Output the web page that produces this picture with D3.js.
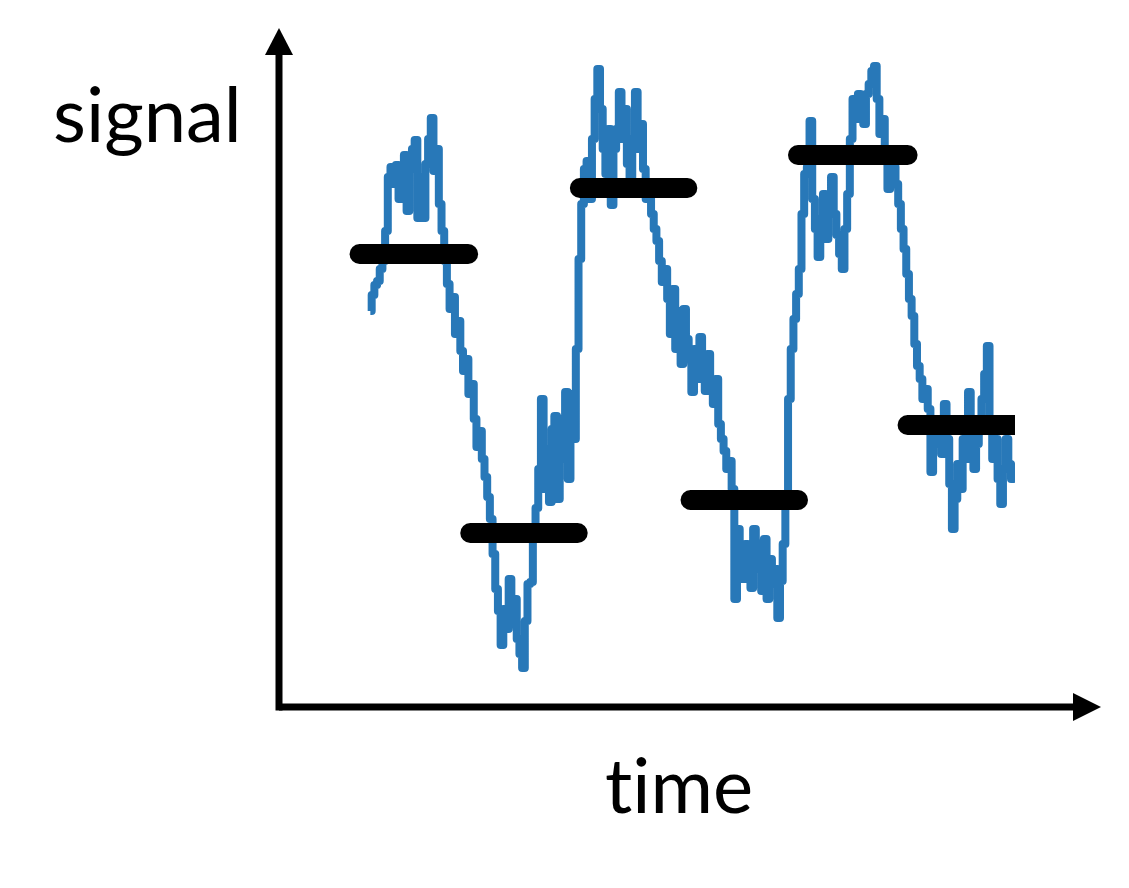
<!DOCTYPE html>
<html>
<head>
<meta charset="utf-8">
<script src="https://cdn.jsdelivr.net/npm/d3@7"></script>
<style>
  body { margin: 0; background: #fff; }
  text { font-family: Lato, "Open Sans", sans-serif; font-variant-ligatures: none; }
</style>
</head>
<body>
<div id="chart"></div>
<script>
// Noisy signal, one sample every 0.25 time units starting at t = 0
const timeStep = 0.25;
const signal = [
  39.6, 41.2, 42.2, 42.6, 43.8, 44.6, 47.6, 53.0, 54.0, 52.3, 54.2, 50.8, 53.0, 55.2, 49.6, 53.8,
  55.8, 56.7, 48.9, 53.0, 48.9, 54.3, 56.8, 58.9, 53.6, 55.8, 50.3, 47.6, 44.6, 42.3, 39.8, 41.0,
  37.3, 38.6, 35.6, 33.6, 34.8, 31.3, 32.3, 28.8, 26.0, 27.6, 24.8, 23.0, 21.0, 18.8, 15.3, 11.8,
  9.6, 6.2, 9.8, 7.8, 12.8, 8.3, 10.8, 6.8, 5.3, 3.9, 8.6, 12.3, 12.5, 16.8, 19.9, 23.8,
  30.8, 21.8, 25.8, 20.5, 27.8, 29.1, 20.8, 24.8, 28.8, 31.5, 22.8, 31.3, 26.8, 35.8, 44.8, 50.3,
  53.8, 54.6, 50.8, 56.8, 60.8, 63.8, 59.8, 55.8, 53.3, 57.8, 50.2, 55.8, 57.8, 61.5, 56.8, 59.8,
  54.3, 52.3, 56.8, 61.5, 55.8, 58.3, 53.8, 50.8, 51.8, 49.3, 47.8, 46.6, 44.6, 42.5, 43.8, 40.8,
  37.3, 41.8, 35.8, 39.6, 34.3, 39.8, 36.8, 34.8, 31.5, 35.8, 32.8, 37.0, 33.8, 31.6, 35.3, 31.8,
  30.3, 32.8, 28.3, 26.8, 25.6, 23.8, 24.6, 21.8, 10.8, 17.8, 14.8, 12.8, 16.3, 13.8, 11.9, 17.8,
  13.8, 16.3, 11.6, 16.8, 10.8, 14.8, 12.3, 13.8, 8.9, 12.6, 16.3, 21.3, 30.8, 35.8, 38.8, 41.3,
  43.8, 49.3, 53.3, 54.0, 58.6, 50.8, 47.8, 45.0, 48.8, 51.3, 46.8, 49.8, 53.0, 49.3, 47.2, 45.3,
  43.8, 47.8, 51.3, 56.8, 60.8, 58.8, 61.3, 60.0, 58.3, 61.3, 62.3, 63.6, 64.1, 60.8, 57.3, 58.8,
  54.8, 51.8, 55.8, 54.0, 52.3, 50.3, 47.8, 45.8, 43.3, 40.8, 39.1, 36.3, 34.1, 32.8, 30.8, 31.8,
  29.8, 23.5, 27.8, 26.3, 28.8, 25.3, 30.3, 26.8, 22.3, 17.8, 20.8, 24.3, 21.8, 26.8, 24.8, 31.5,
  27.8, 23.8, 26.3, 28.8, 30.8, 33.3, 36.1, 28.8, 24.8, 26.8, 22.8, 20.3, 23.8, 26.8, 24.3, 22.8,
  23.1
];

// Piecewise constant levels (black bars)
const levelStart = [-1, 9.3, 19.5, 29.8, 39.8, 50];
const levelEnd = [9.1, 19.3, 29.5, 39.8, 50, 61];
const levelValue = [45.3, 17.4, 51.9, 20.7, 55.2, 28.2];

const xLabel = "time";
const yLabel = "signal";

const width = 1129;
const height = 888;

const svg = d3.select("#chart")
    .append("svg")
    .attr("width", width)
    .attr("height", height);

svg.append("rect")
    .attr("width", width)
    .attr("height", height)
    .attr("fill", "#fff");

// Scales
const x = d3.scaleLinear().domain([-8.5, 68]).range([279, 1101]);
const y = d3.scaleLinear().domain([0, 67.9]).range([707, 28]);

// Clip: everything is cut off at t = 60
svg.append("defs").append("clipPath")
    .attr("id", "plotClip")
    .append("rect")
    .attr("x", 0).attr("y", 0)
    .attr("width", x(60)).attr("height", height);

const plot = svg.append("g").attr("clip-path", "url(#plotClip)");

// Signal (step curve gives the blocky, dense look of the original trace)
const line = d3.line()
    .x((d, i) => x(i * timeStep))
    .y(d => y(d))
    .curve(d3.curveStep);

plot.append("path")
    .datum(signal)
    .attr("d", line)
    .attr("fill", "none")
    .attr("stroke", "#2878b8")
    .attr("stroke-width", 8)
    .attr("stroke-linejoin", "round");

// Levels
plot.selectAll(".level")
    .data(levelValue)
    .enter().append("line")
    .attr("class", "level")
    .attr("x1", (d, i) => x(levelStart[i]))
    .attr("x2", (d, i) => x(levelEnd[i]))
    .attr("y1", d => y(d))
    .attr("y2", d => y(d))
    .attr("stroke", "#000")
    .attr("stroke-width", 20)
    .attr("stroke-linecap", "round");

// Axes with arrow heads
const x0 = x.range()[0], x1 = x.range()[1];
const y0 = y.range()[0], y1 = y.range()[1];

svg.append("line")
    .attr("x1", x0).attr("x2", x1 - 20)
    .attr("y1", y0).attr("y2", y0)
    .attr("stroke", "#000").attr("stroke-width", 7);
svg.append("line")
    .attr("x1", x0).attr("x2", x0)
    .attr("y1", y0 + 3.5).attr("y2", y1 + 20)
    .attr("stroke", "#000").attr("stroke-width", 7);

svg.append("path")
    .attr("d", `M${x1},${y0} L${x1 - 28},${y0 - 14} L${x1 - 28},${y0 + 14} Z`)
    .attr("fill", "#000");
svg.append("path")
    .attr("d", `M${x0},${y1} L${x0 - 14},${y1 + 27} L${x0 + 14},${y1 + 27} Z`)
    .attr("fill", "#000");

// Labels
svg.append("text")
    .attr("x", 53)
    .attr("y", 142)
    .text(yLabel)
    .style("font-size", "76px")
    .attr("fill", "#000");

svg.append("text")
    .attr("x", 679)
    .attr("y", 813)
    .attr("text-anchor", "middle")
    .text(xLabel)
    .style("font-size", "76px")
    .attr("fill", "#000");
</script>
</body>
</html>
